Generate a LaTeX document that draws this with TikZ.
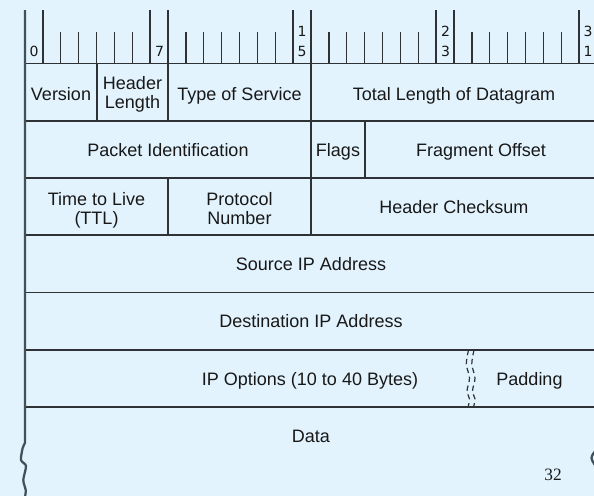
\documentclass[tikz,border=0pt]{standalone}
\usepackage{fontspec}
\setmainfont{Liberation Sans}
\newfontfamily\digitfont{DejaVu Sans}
\newfontfamily\pagefont{Liberation Serif}

\definecolor{paper}{RGB}{226,243,253}
\definecolor{rule}{RGB}{46,50,54}
\definecolor{edge}{RGB}{66,80,90}
\definecolor{ink}{RGB}{24,24,24}

\tikzset{
  field/.style={inner sep=0pt, text=ink, font=\fontsize{13.5}{14.25}\selectfont},
  twoline/.style={field, align=center, anchor=north},
  oneline/.style={field, anchor=base},
  bitnum/.style={inner sep=0pt, anchor=south, align=center, text=ink,
                 font=\digitfont\fontsize{10.5}{15}\selectfont},
  rowline/.style={draw=rule, line width=1.1pt},
  sepline/.style={draw=rule, line width=0.8pt},
  tick/.style={draw=rule, line width=1pt},
  border/.style={draw=edge, line width=1.7pt, line join=round},
  gapline/.style={draw=rule, line width=0.9pt, dash pattern=on 4pt off 2.8pt}
}

\begin{document}
\begin{tikzpicture}[x=0.75pt, y=-0.75pt]
  \useasboundingbox (0,0) rectangle (594,496);
  \fill[paper] (0,0) rectangle (594,496);
  \clip (0,0) rectangle (594,496);

  % bit ruler: short ticks, and tall ticks around the numbered bits
  \foreach \i in {2,3,4,5,6,9,10,11,12,13,14,17,18,19,20,21,22,25,26,27,28,29,30}
    \draw[tick] ({25+17.875*\i},32) -- ({25+17.875*\i},63.5);
  \foreach \i in {1,7,8,15,16,23,24,31,32}
    \draw[tick] ({25+17.875*\i},10) -- ({25+17.875*\i},63.5);

  \node[bitnum] (b0)  at (34,56.5) {0};
  \node[bitnum] (b7)  at (159.5,56.5) {7};
  \node[bitnum] (b15) at (302,56.5) {1\\5};
  \node[bitnum] (b23) at (445.5,56.5) {2\\3};
  \node[bitnum] (b31) at (588,56.5) {3\\1};

  % row boundaries
  \foreach \y in {63.5,121,178,235,292.5,350,407}
    \draw[rowline] (25,\y) -- (597,\y);

  % field separators
  \draw[sepline] (97,63.5) -- (97,121);
  \draw[sepline] (168,63.5) -- (168,121);
  \draw[sepline] (311,63.5) -- (311,121);
  \draw[sepline] (311,121) -- (311,178);
  \draw[sepline] (365,121) -- (365,178);
  \draw[sepline] (168,178) -- (168,235);
  \draw[sepline] (311,178) -- (311,235);

  % broken separator between options and padding
  \draw[gapline] plot[smooth] coordinates
    {(468.5,350) (466.3,364) (469.5,378) (467,391) (469.5,399) (468,407)};
  \draw[gapline] plot[smooth] coordinates
    {(474,350) (471.8,364) (475,378) (472.5,391) (475,399) (473.5,407)};

  % outer edges, torn at the bottom
  \draw[border] (25,10) -- (25,443)
    plot[smooth] coordinates {(25,443) (22.7,448) (21,460) (26,466) (23.3,480) (25.7,490) (25,497)};
  \draw[border] (597,10) -- (597,449)
    plot[smooth] coordinates {(597,449) (593,454) (591.5,458) (593,462) (597,468)};

  % field labels
  \node[oneline] (ver)  at (61,100) {Version};
  \node[twoline] (ihl)  at (132.5,76) {Header\\Length};
  \node[oneline] (tos)  at (239.5,100) {Type of Service};
  \node[oneline] (len)  at (454,100) {Total Length of Datagram};

  \node[oneline] (id)   at (168,156.5) {Packet Identification};
  \node[oneline] (flg)  at (338,156.5) {Flags};
  \node[oneline] (frag) at (481,156.5) {Fragment Offset};

  \node[twoline] (ttl)  at (96.5,192) {Time to Live\\(TTL)};
  \node[twoline] (prot) at (239.5,192) {Protocol\\Number};
  \node[oneline] (chk)  at (454,213) {Header Checksum};

  \node[oneline] (src)  at (311,270) {Source IP Address};
  \node[oneline] (dst)  at (311,327.5) {Destination IP Address};

  \node[oneline] (opt)  at (310,385) {IP Options (10 to 40 Bytes)};
  \node[oneline] (pad)  at (529.5,385) {Padding};

  \node[oneline] (data) at (311,442) {Data};

  \node[inner sep=0pt, anchor=base, text=ink, font=\pagefont\fontsize{13}{15}\selectfont]
    (pg) at (553,480) {32};
\end{tikzpicture}
\end{document}
